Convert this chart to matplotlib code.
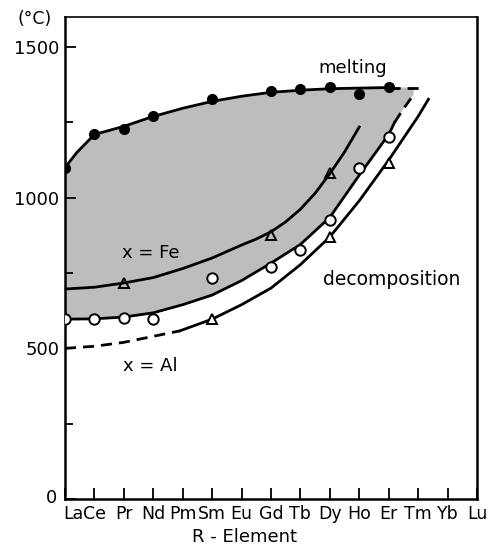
import numpy as np
import matplotlib
matplotlib.use("Agg")
import matplotlib.pyplot as plt
import matplotlib.transforms as mtransforms

# R elements along the x axis
elements = ["La", "Ce", "Pr", "Nd", "Pm", "Sm", "Eu", "Gd", "Tb", "Dy",
            "Ho", "Er", "Tm", "Yb", "Lu"]

# melting curve (solid part + dashed extension)
melt_x = [0, 0.4, 1, 2, 3, 4, 5, 6, 7, 8, 9, 10, 11]
melt_y = [1100, 1150, 1210, 1237, 1270, 1297, 1320, 1337, 1350, 1357, 1362, 1364, 1366]
melt_dash_x = [11, 12.15]
melt_dash_y = [1366, 1366]
melt_pts_x = [0, 1, 2, 3, 5, 7, 8, 9, 10, 11]
melt_pts_y = [1100, 1210, 1227, 1273, 1327, 1353, 1360, 1367, 1343, 1367]

# decomposition, open circles (lower border of shaded region)
circ_x = [0, 1, 2, 3, 4, 5, 6, 7, 8, 9, 10, 11, 11.2]
circ_y = [597, 598, 604, 618, 645, 677, 725, 783, 845, 935, 1075, 1210, 1250]
circ_dash_x = [11.2, 11.5, 11.85]
circ_dash_y = [1250, 1295, 1343]
circ_pts_x = [0, 1, 2, 3, 5, 7, 8, 9, 10, 11]
circ_pts_y = [597, 597, 600, 597, 733, 770, 827, 927, 1100, 1203]

# x = Fe decomposition
fe_x = [0, 1, 2, 3, 4, 5, 6, 6.5, 7, 7.5, 8, 8.5, 9, 9.5, 10]
fe_y = [697, 703, 717, 735, 765, 800, 843, 863, 887, 920, 962, 1015, 1080, 1152, 1235]
fe_pts_x = [2, 7, 9]
fe_pts_y = [717, 877, 1083]

# x = Al decomposition (dashed start, then solid)
al_dash_x = [0, 1, 2, 3, 3.9]
al_dash_y = [500, 507, 520, 540, 558]
al_x = [3.9, 5, 6, 7, 8, 9, 10, 11, 12, 12.35]
al_y = [558, 597, 645, 700, 778, 870, 990, 1125, 1270, 1327]
al_pts_x = [5, 9, 11]
al_pts_y = [597, 870, 1115]

fig = plt.figure(figsize=(4.93, 5.49), dpi=100)
ax = fig.add_axes([0.1318, 0.0911, 0.8357, 0.8779])

# shaded region between melting and decomposition
up_x = np.array(melt_x + [11.85])
up_y = np.array(melt_y + [1366])
lo_x = np.array(circ_x + circ_dash_x[1:])
lo_y = np.array(circ_y + circ_dash_y[1:])
ax.fill(np.concatenate([up_x, lo_x[::-1]]), np.concatenate([up_y, lo_y[::-1]]),
        color="#bdbdbd", lw=0, zorder=1)

lw = 2.0
dash = (0, (4, 2.5))
ax.plot(melt_x, melt_y, color="black", lw=lw, zorder=3)
ax.plot(melt_dash_x, melt_dash_y, color="black", lw=lw, ls=dash, zorder=3)
ax.plot(melt_pts_x, melt_pts_y, "o", color="black", ms=7, zorder=4)

ax.plot(circ_x, circ_y, color="black", lw=lw, zorder=3)
ax.plot(circ_dash_x, circ_dash_y, color="black", lw=lw, ls=dash, zorder=3)
ax.plot(circ_pts_x, circ_pts_y, "o", mfc="white", mec="black", mew=1.4, ms=7.5, zorder=4)

ax.plot(fe_x, fe_y, color="black", lw=lw, zorder=3)
ax.plot(fe_pts_x, fe_pts_y, "^", mfc="none", mec="black", mew=1.4, ms=7, zorder=4)

ax.plot(al_dash_x, al_dash_y, color="black", lw=lw, ls=dash, zorder=3)
ax.plot(al_x, al_y, color="black", lw=lw, zorder=3)
ax.plot(al_pts_x, al_pts_y, "^", mfc="white", mec="black", mew=1.4, ms=7, zorder=4)

# labels in the plot
ax.text(9.76, 1430, "melting", fontsize=13, ha="center", va="center")
ax.text(2.9, 815, "x = Fe", fontsize=13, ha="center", va="center")
ax.text(11.1, 728, "decomposition", fontsize=13.5, ha="center", va="center")
ax.text(2.9, 442, "x = Al", fontsize=13, ha="center", va="center")

ax.set_xlim(0, 14)
ax.set_ylim(0, 1600)
ax.set_xticks(range(len(elements)))
ax.set_xticklabels(elements, fontsize=12.5)
ax.set_yticks([0, 500, 1000, 1500])
ax.set_yticks([250, 750, 1250], minor=True)
ax.tick_params(axis="y", labelsize=13)
ax.tick_params(which="major", direction="in", length=8, width=1.3, pad=4)
ax.tick_params(which="minor", direction="in", length=6, width=1.3)

# nudge "La" right so it clears the "0" label, as in the original
lab = ax.get_xticklabels()[0]
lab.set_transform(lab.get_transform() + mtransforms.ScaledTranslation(8 / 100, 0, fig.dpi_scale_trans))
ylab0 = ax.get_yticklabels()[0]
ylab0.set_transform(ylab0.get_transform() + mtransforms.ScaledTranslation(-2 / 100, 3 / 100, fig.dpi_scale_trans))

for side in ["left", "bottom", "right"]:
    ax.spines[side].set_linewidth(1.8)
ax.spines["top"].set_linewidth(1.2)

fig.text(35 / 493, 1 - 19 / 549, "(°C)", fontsize=12.5, ha="center", va="center")
fig.text(245 / 493, 1 - 537 / 549, "R - Element", fontsize=13, ha="center", va="center")

fig.savefig("out.png", dpi=100)
